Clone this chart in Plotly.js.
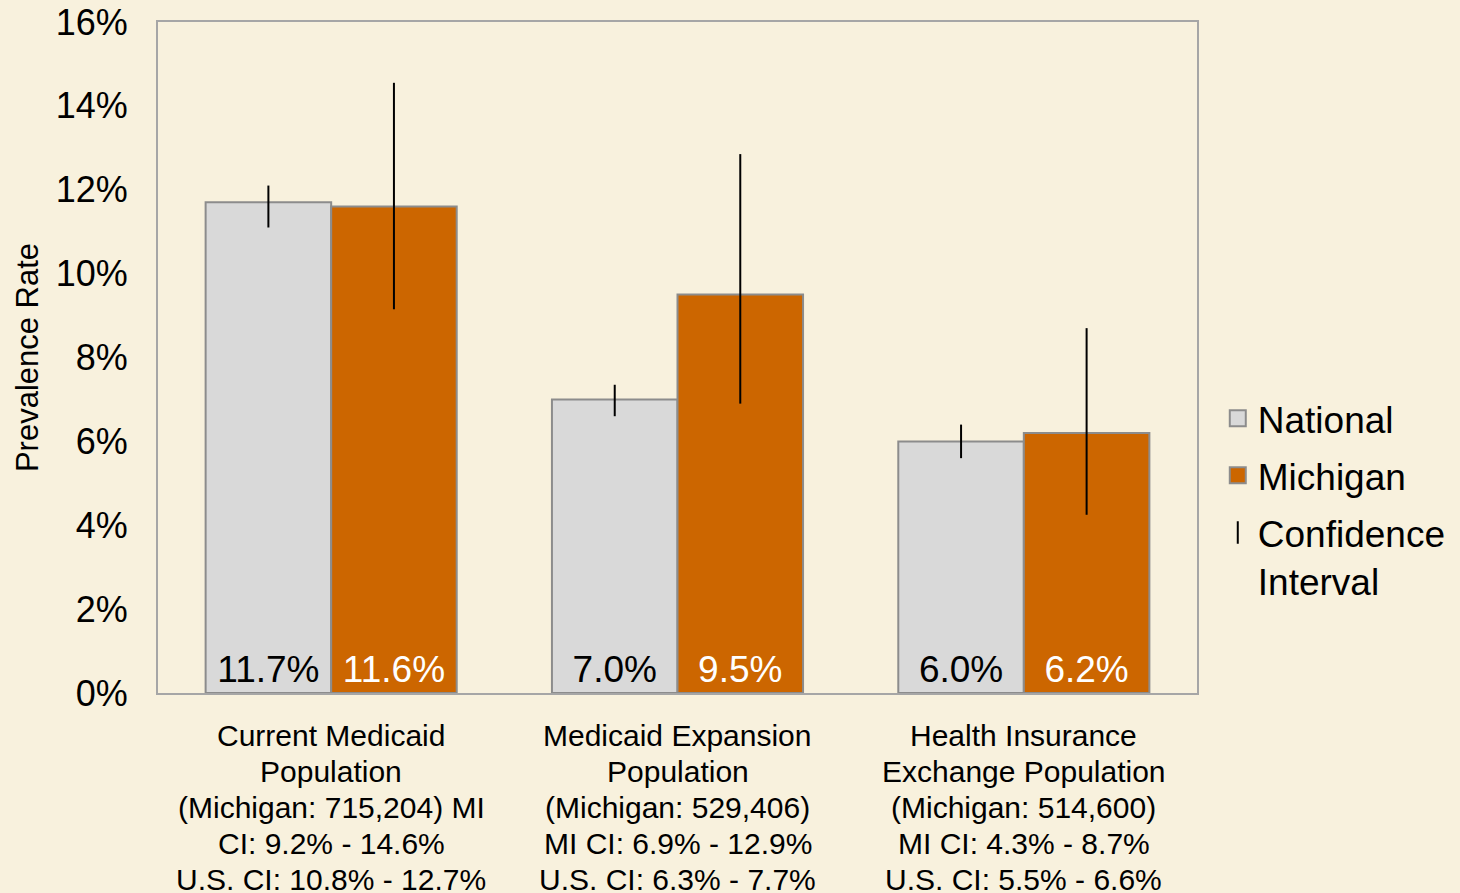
<!DOCTYPE html>
<html>
<head>
<meta charset="utf-8">
<script src="https://cdn.plot.ly/plotly-3.0.1.min.js"></script>
<style>
  html, body { margin: 0; padding: 0; background: #F8F1DD; }
  #chart { width: 1460px; height: 893px; }
</style>
</head>
<body>
<div id="chart"></div>
<script>
const categories = [
  "Current Medicaid<br>Population<br>(Michigan: 715,204) MI<br>CI: 9.2% - 14.6%<br>U.S. CI: 10.8% - 12.7%",
  "Medicaid Expansion<br>Population<br>(Michigan: 529,406)<br>MI CI: 6.9% - 12.9%<br>U.S. CI: 6.3% - 7.7%",
  "Health Insurance<br>Exchange Population<br>(Michigan: 514,600)<br>MI CI: 4.3% - 8.7%<br>U.S. CI: 5.5% - 6.6%"
];
const categoryKeys = ["g1", "g2", "g3"];
const nationalValues = [11.7, 7.0, 6.0];
const michiganValues = [11.6, 9.5, 6.2];
// Confidence-interval whiskers as drawn in the picture
const nationalCILow = [11.1, 6.6, 5.6];
const nationalCIHigh = [12.1, 7.35, 6.4];
const michiganCILow = [9.15, 6.9, 4.25];
const michiganCIHigh = [14.55, 12.85, 8.7];
const yTickVals = [0, 2, 4, 6, 8, 10, 12, 14, 16];

const FONT = "Liberation Sans, Arial, sans-serif";
const NAT_COLOR = "#D9D9D9", MI_COLOR = "#CC6600", EDGE = "#8C8C8C";

function errPlus(v, hi) { return v.map((x, i) => hi[i] - x); }
function errMinus(v, lo) { return v.map((x, i) => x - lo[i]); }

const traces = [
  {
    type: "bar", name: "National", x: categoryKeys, y: nationalValues, showlegend: false,
    marker: { color: NAT_COLOR, line: { color: EDGE, width: 2 } },
    text: nationalValues.map(v => v.toFixed(1) + "%"),
    textposition: "inside", insidetextanchor: "start",
    textfont: { family: FONT, size: 37, color: "#000000" },
    textangle: 0,
    error_y: { type: "data", symmetric: false,
      array: errPlus(nationalValues, nationalCIHigh),
      arrayminus: errMinus(nationalValues, nationalCILow),
      color: "#000000", thickness: 2, width: 0 }
  },
  {
    type: "bar", name: "Michigan", x: categoryKeys, y: michiganValues, showlegend: false,
    marker: { color: MI_COLOR, line: { color: EDGE, width: 2 } },
    text: michiganValues.map(v => v.toFixed(1) + "%"),
    textposition: "inside", insidetextanchor: "start",
    textfont: { family: FONT, size: 37, color: "#FFFFFF" },
    textangle: 0,
    error_y: { type: "data", symmetric: false,
      array: errPlus(michiganValues, michiganCIHigh),
      arrayminus: errMinus(michiganValues, michiganCILow),
      color: "#000000", thickness: 2, width: 0 }
  },
  {
    type: "scatter", mode: "markers", name: "National", legendgroup: "a",
    x: [null], y: [null],
    marker: { symbol: "square", size: 17, color: NAT_COLOR, line: { color: EDGE, width: 2 } }
  },
  {
    type: "scatter", mode: "markers", name: "Michigan", legendgroup: "b",
    x: [null], y: [null],
    marker: { symbol: "square", size: 17, color: MI_COLOR, line: { color: EDGE, width: 2 } }
  },
  {
    type: "scatter", mode: "markers", name: "Confidence<br>Interval", legendgroup: "c",
    x: [null], y: [null],
    marker: { symbol: "line-ns-open", size: 24, color: "#000000", line: { color: "#000000", width: 2 } }
  }
];

// Category labels: one annotation per text line for PowerPoint-like line spacing
const annotations = [];
categories.forEach((cat, ci) => {
  cat.split("<br>").forEach((line, li) => {
    annotations.push({
      x: categoryKeys[ci], xref: "x", y: 0, yref: "paper",
      yanchor: "middle", xanchor: "center", yshift: -42 - li * 36,
      text: line, showarrow: false,
      font: { family: FONT, size: 30, color: "#000000" }
    });
  });
});

const layout = {
  width: 1460, height: 893,
  paper_bgcolor: "#F8F1DD", plot_bgcolor: "#F8F1DD",
  margin: { l: 158, r: 263, t: 22, b: 200, autoexpand: false },
  font: { family: FONT, color: "#000000" },
  barmode: "group", bargap: 0.275, bargroupgap: 0,
  showlegend: true,
  legend: {
    x: 1.02, xanchor: "left", y: 0.455, yanchor: "top",
    font: { family: FONT, size: 37, color: "#000000" },
    bgcolor: "rgba(0,0,0,0)", tracegroupgap: 6, itemwidth: 30,
    traceorder: "grouped", valign: "top"
  },
  annotations: annotations,
  xaxis: {
    type: "category", tickmode: "array", tickvals: categoryKeys,
    showticklabels: false,
    showline: true, linecolor: "#A6A6A6", linewidth: 2, mirror: true,
    ticks: "", showgrid: false, zeroline: false, fixedrange: true
  },
  yaxis: {
    range: [0, 16], tickmode: "array", tickvals: yTickVals,
    ticktext: yTickVals.map(v => v + "%"),
    tickfont: { family: FONT, size: 36, color: "#000000" },
    showline: true, linecolor: "#A6A6A6", linewidth: 2, mirror: true,
    ticks: "", showgrid: false, zeroline: false, ticklabelstandoff: 21,
    title: { text: "Prevalence Rate", font: { family: FONT, size: 31, color: "#000000" }, standoff: 8 }
  }
};

Plotly.newPlot("chart", traces, layout, { displayModeBar: false, staticPlot: true });
</script>
</body>
</html>
